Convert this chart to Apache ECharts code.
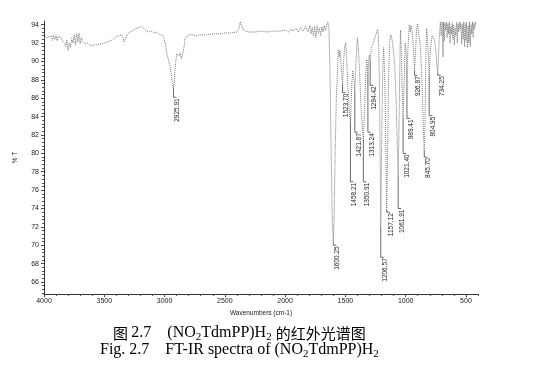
<!DOCTYPE html>
<html>
<head>
<meta charset="utf-8">
<script src="https://cdn.jsdelivr.net/npm/echarts@6/dist/echarts.min.js"></script>
<style>
  html, body { margin: 0; padding: 0; background: #fff; }
  #chart { width: 549px; height: 377px; }
</style>
</head>
<body>
<div id="chart"></div>
<script>
// FT-IR spectrum: [wavenumber (cm-1), %T]
const spectrum = [
  [4000, 92.5], [3985, 92.4], [3970, 92.6], [3955, 92.5], [3940, 92.8], [3930, 92.3], [3920, 92.9],
  [3910, 92.4], [3900, 92.8], [3890, 92.2], [3880, 92.7], [3870, 92.5], [3860, 92.6], [3850, 92.3],
  [3840, 92.4], [3830, 92.0], [3820, 91.6], [3810, 92.3], [3800, 91.2], [3790, 92.0], [3780, 91.5],
  [3770, 92.5], [3760, 92.0], [3750, 92.9], [3740, 91.8], [3730, 93.0], [3720, 92.1], [3710, 93.1],
  [3700, 91.9], [3690, 92.6], [3680, 92.2], [3670, 92.3], [3660, 91.9], [3640, 92.0], [3620, 91.8],
  [3600, 91.7], [3580, 91.8], [3560, 91.8], [3540, 91.9], [3520, 91.9], [3500, 92.0], [3480, 92.1],
  [3460, 92.2], [3440, 92.3], [3420, 92.5], [3400, 92.7], [3380, 92.8], [3360, 92.9], [3345, 92.6],
  [3335, 92.1], [3325, 92.4], [3310, 92.9], [3290, 93.2], [3270, 93.3], [3250, 93.5], [3230, 93.6],
  [3210, 93.7], [3190, 93.8], [3170, 93.6], [3150, 93.3], [3130, 93.2], [3110, 93.3], [3090, 93.1],
  [3070, 93.2], [3050, 93.0], [3030, 92.9], [3010, 92.7], [2995, 92.0], [2980, 90.8], [2968, 90.2],
  [2955, 89.5], [2945, 88.6], [2935, 87.6], [2926, 87.0], [2918, 88.0], [2910, 89.6], [2900, 90.8],
  [2890, 91.0], [2880, 90.6], [2870, 90.9], [2860, 90.3], [2852, 90.2], [2842, 91.2], [2830, 92.5],
  [2810, 92.8], [2790, 92.9], [2770, 92.9], [2740, 92.8], [2700, 92.9], [2650, 92.9], [2600, 93.0],
  [2550, 93.0], [2500, 93.1], [2450, 93.1], [2400, 93.2], [2385, 93.5], [2372, 94.3], [2362, 93.9],
  [2350, 93.5], [2330, 93.3], [2300, 93.2], [2250, 93.2], [2200, 93.3], [2150, 93.2], [2100, 93.3],
  [2050, 93.3], [2000, 93.4], [1970, 93.2], [1950, 93.5], [1930, 93.3], [1910, 93.6], [1890, 93.2],
  [1870, 93.7], [1850, 93.3], [1830, 93.8], [1810, 93.2], [1795, 93.9], [1785, 93.0], [1775, 93.7],
  [1765, 92.8], [1755, 93.8], [1745, 92.6], [1735, 93.9], [1725, 93.1], [1715, 93.6], [1705, 92.8],
  [1695, 93.8], [1685, 93.2], [1675, 93.9], [1665, 93.4], [1655, 94.0], [1645, 94.3], [1636, 93.4],
  [1628, 89.0], [1618, 80.0], [1608, 72.5], [1600.25, 70.4], [1594, 73.0], [1585, 80.0], [1575, 86.0],
  [1565, 89.0], [1558, 91.3], [1550, 90.5], [1545, 91.2], [1535, 89.5], [1523.7, 87.5], [1515, 90.0],
  [1505, 91.6], [1498, 92.0], [1490, 90.5], [1480, 87.5], [1470, 85.0], [1458.21, 83.3], [1447, 87.5],
  [1438, 89.0], [1430, 88.2], [1421.87, 86.8], [1412, 90.0], [1400, 92.6], [1390, 91.0], [1380, 88.0],
  [1370, 85.0], [1360, 83.0], [1350.91, 81.5], [1340, 85.5], [1330, 88.8], [1322, 90.2], [1313.24, 88.7],
  [1305, 90.4], [1300, 90.7], [1294.42, 90.1], [1285, 91.5], [1270, 92.0], [1255, 92.6], [1240, 93.2],
  [1233, 93.5], [1225, 92.5], [1218, 88.0], [1212, 80.0], [1206.57, 72.0], [1200, 80.0], [1192, 88.0],
  [1183, 91.5], [1175, 89.0], [1168, 84.0], [1162, 78.0], [1157.12, 73.9], [1150, 80.0], [1142, 88.0],
  [1133, 92.0], [1122, 92.9], [1112, 92.3], [1100, 91.0], [1090, 89.5], [1080, 86.0], [1070, 81.0],
  [1061.91, 77.5], [1055, 83.0], [1048, 90.0], [1043, 93.4], [1036, 91.0], [1030, 87.5], [1021.4, 84.0],
  [1012, 88.0], [1004, 92.0], [998, 91.5], [989.41, 89.2], [980, 91.5], [970, 94.0], [962, 93.2],
  [955, 93.9], [945, 93.0], [935, 91.5], [926.87, 89.0], [918, 91.0], [910, 93.5], [900, 94.1],
  [892, 93.0], [880, 92.0], [868, 89.0], [858, 85.0], [850, 81.5], [845.7, 80.3], [840, 83.0],
  [832, 91.0], [826, 93.6], [818, 92.5], [810, 90.0], [804.95, 88.5], [798, 90.5], [790, 92.0],
  [780, 92.8], [770, 92.6], [760, 92.3], [748, 91.0], [740, 89.5], [734.25, 88.8], [728, 90.5],
  [720, 92.8], [712, 94.3], [705, 92.8], [698, 94.3], [690, 90.5], [686, 94.3], [680, 92.2],
  [674, 94.2], [668, 93.4], [662, 94.3], [656, 92.6], [650, 94.1], [644, 93.0], [638, 94.3],
  [632, 92.0], [626, 93.8], [620, 93.0], [614, 94.2], [608, 92.4], [602, 94.0], [596, 91.8],
  [590, 93.6], [584, 92.8], [578, 94.3], [572, 92.0], [566, 94.1], [560, 93.2], [554, 94.3],
  [548, 93.5], [542, 94.2], [536, 91.9], [530, 94.0], [524, 92.4], [518, 94.3], [512, 91.6],
  [506, 94.1], [500, 92.2], [494, 94.3], [488, 91.5], [482, 93.9], [476, 92.0], [470, 94.3],
  [464, 91.6], [458, 94.0], [452, 93.0], [446, 94.3], [440, 92.6], [434, 94.2], [428, 93.5],
  [422, 94.3], [418, 94.0]
];

// labelled peaks: wavenumber, %T at the tip, %T where the label starts
const peakWavenumbers = [2925.91, 1600.25, 1523.70, 1458.21, 1421.87, 1350.91, 1313.24, 1294.42,
  1206.57, 1157.12, 1061.91, 1021.40, 989.41, 926.87, 845.70, 804.95, 734.25];
const peakTips = [87.0, 70.4, 87.5, 83.3, 86.8, 81.5, 88.7, 90.1,
  72.0, 73.9, 77.5, 84.0, 89.2, 89.0, 80.3, 88.5, 88.8];
const peakLabelAt = [86.1, 70.0, 86.6, 76.9, 82.3, 76.9, 82.3, 87.4,
  68.7, 73.6, 74.0, 80.0, 83.8, 88.5, 79.6, 84.1, 88.5];

const xTicks = [4000, 3500, 3000, 2500, 2000, 1500, 1000, 500];
const yTicks = [66, 68, 70, 72, 74, 76, 78, 80, 82, 84, 86, 88, 90, 92, 94];

// minor ticks: five steps between the labelled ones
const xMinor = [];
for (let v = 4000; v >= 400; v -= 100) xMinor.push(v);
const yMinor = [];
for (let v = 64.8; v <= 94.4; v += 0.4) yMinor.push(+v.toFixed(1));

const peakData = peakWavenumbers.map((w, i) => [w, peakTips[i], peakLabelAt[i]]);

const axisFont = { fontFamily: 'Liberation Sans', fontSize: 7, color: '#222' };

function renderPeak (params, api) {
  const tip = api.coord([api.value(0), api.value(1)]);
  const foot = api.coord([api.value(0), api.value(2)]);
  return {
    type: 'group',
    children: [
      {
        type: 'polyline',
        shape: { points: [tip, foot, [foot[0] + 3, foot[1]]] },
        style: { stroke: '#444', lineWidth: 0.8, fill: null }
      },
      {
        type: 'text',
        x: foot[0] + 4,
        y: foot[1] + 1,
        rotation: Math.PI / 2,
        style: {
          text: api.value(0).toFixed(2),
          fontFamily: 'Liberation Sans',
          fontSize: 6.5,
          fill: '#222',
          align: 'right',
          verticalAlign: 'middle'
        }
      }
    ]
  };
}

const captionRich = {
  a: { fontFamily: 'Liberation Serif', fontSize: 16, color: '#111', lineHeight: 20 },
  c: { fontFamily: 'Noto Sans CJK SC', fontSize: 15, color: '#111', lineHeight: 20 },
  s: { fontFamily: 'Liberation Serif', fontSize: 11, color: '#111', lineHeight: 11, verticalAlign: 'bottom' }
};

function caption (x, y, text) {
  return {
    type: 'text',
    left: x,
    top: y,
    style: { text: text, rich: captionRich, verticalAlign: 'top' }
  };
}

const chart = echarts.init(document.getElementById('chart'), null, { renderer: 'canvas' });
chart.setOption({
  animation: false,
  backgroundColor: '#fff',
  grid: { left: 44, right: 71, top: 21, bottom: 83 },
  xAxis: [
    {
      type: 'value',
      min: 400,
      max: 4000,
      inverse: true,
      name: 'Wavenumbers (cm-1)',
      nameLocation: 'middle',
      nameGap: 16,
      nameTextStyle: { fontFamily: 'Liberation Sans', fontSize: 6.5, color: '#222' },
      axisLine: { show: true, lineStyle: { color: '#333', width: 1 } },
      axisTick: { show: true, length: 3, customValues: xTicks, lineStyle: { color: '#333' } },
      axisLabel: Object.assign({ margin: 4, customValues: xTicks, formatter: v => String(v) }, axisFont),
      splitLine: { show: false }
    },
    {
      type: 'value',
      min: 400,
      max: 4000,
      inverse: true,
      position: 'bottom',
      axisLine: { show: false },
      axisTick: { show: true, length: 2, customValues: xMinor, lineStyle: { color: '#555' } },
      axisLabel: { show: false },
      splitLine: { show: false }
    }
  ],
  yAxis: [
    {
      type: 'value',
      min: 64.7,
      max: 94.4,
      name: '% T',
      nameLocation: 'middle',
      nameGap: 25,
      nameRotate: 90,
      nameTextStyle: { fontFamily: 'Liberation Sans', fontSize: 6.5, color: '#222' },
      axisLine: { show: true, lineStyle: { color: '#333', width: 1 } },
      axisTick: { show: true, length: 3, customValues: yTicks, lineStyle: { color: '#333' } },
      axisLabel: Object.assign({ margin: 5, customValues: yTicks, formatter: v => String(v) }, axisFont),
      splitLine: { show: false }
    },
    {
      type: 'value',
      min: 64.7,
      max: 94.4,
      position: 'left',
      axisLine: { show: false },
      axisTick: { show: true, length: 2, customValues: yMinor, lineStyle: { color: '#555' } },
      axisLabel: { show: false },
      splitLine: { show: false }
    }
  ],
  series: [
    {
      name: 'spectrum',
      type: 'line',
      data: spectrum,
      showSymbol: false,
      clip: true,
      lineStyle: { color: '#777', width: 1, type: [1, 1] }
    },
    {
      name: 'peaks',
      type: 'custom',
      data: peakData,
      encode: { x: 0, y: [1, 2] },
      clip: false,
      renderItem: renderPeak
    }
  ],
  graphic: [
    caption(113, 325, '{c|图} {a|2.7    (NO}{s|2}{a|TdmPP)H}{s|2}{a| }{c|的红外光谱图}'),
    caption(100, 342, '{a|Fig. 2.7    FT-IR spectra of (NO}{s|2}{a|TdmPP)H}{s|2}')
  ]
});
</script>
</body>
</html>
